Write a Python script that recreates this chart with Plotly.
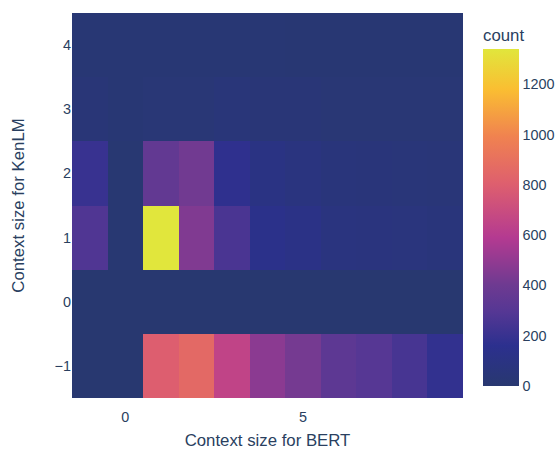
import plotly.graph_objects as go

# Bin centres
bert_sizes = [-1, 0, 1, 2, 3, 4, 5, 6, 7, 8, 9]
kenlm_sizes = [-1, 0, 1, 2, 3, 4]

# counts per KenLM row (index matches kenlm_sizes), columns match bert_sizes
count_kenlm_m1 = [0, 0, 800, 860, 650, 480, 420, 330, 300, 250, 180]
count_kenlm_0 = [0, 0, 0, 0, 0, 0, 0, 0, 0, 0, 0]
count_kenlm_1 = [280, 10, 1340, 450, 260, 140, 120, 80, 75, 70, 60]
count_kenlm_2 = [200, 10, 350, 410, 170, 100, 80, 60, 55, 50, 45]
count_kenlm_3 = [40, 20, 30, 30, 50, 40, 35, 25, 25, 25, 25]
count_kenlm_4 = [20, 20, 20, 20, 20, 20, 15, 15, 15, 15, 15]

z = [count_kenlm_m1, count_kenlm_0, count_kenlm_1, count_kenlm_2, count_kenlm_3, count_kenlm_4]

colorscale = [
    [0.0, "rgb(40,56,112)"],
    [0.12, "rgb(44,48,142)"],
    [0.22, "rgb(85,55,148)"],
    [0.30, "rgb(110,58,145)"],
    [0.44, "rgb(180,58,145)"],
    [0.60, "rgb(222,95,110)"],
    [0.74, "rgb(240,130,80)"],
    [0.88, "rgb(250,190,50)"],
    [1.0, "rgb(225,230,60)"],
]

FONT = "Liberation Sans, Arial, sans-serif"

fig = go.Figure(
    go.Heatmap(
        x=bert_sizes,
        y=kenlm_sizes,
        z=z,
        colorscale=colorscale,
        zmin=0,
        colorbar=dict(
            title=dict(text="count", font=dict(size=16.8)),
            thickness=36,
            xref="container",
            x=483 / 558,
            xanchor="left",
            xpad=0,
            ypad=12,
            outlinewidth=0,
            tickfont=dict(size=14.4),
        ),
    )
)

fig.update_layout(
    template="plotly",
    width=558,
    height=450,
    font=dict(family=FONT, size=14.4, color="#2a3f5f"),
    margin=dict(l=72, r=95, t=13, b=52),
    xaxis=dict(
        title=dict(text="Context size for BERT", font=dict(size=16.8), standoff=24),
        range=[-1.5, 9.5], dtick=5, showgrid=False, zeroline=False, automargin=False,
        ticks="outside", ticklen=6, tickcolor="rgba(0,0,0,0)",
    ),
    yaxis=dict(
        title=dict(text="Context size for KenLM", font=dict(size=16.8), standoff=25),
        range=[-1.5, 4.5], dtick=1, showgrid=False, zeroline=False, automargin=False,
    ),
)

fig.write_html(
    "out.html",
    config={"displayModeBar": False},
    post_script="document.body.style.margin='0';",
)
